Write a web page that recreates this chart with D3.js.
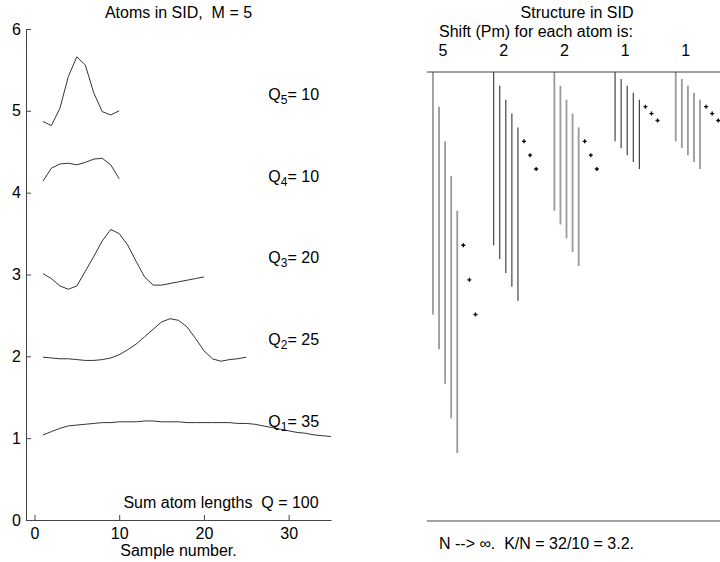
<!DOCTYPE html>
<html>
<head>
<meta charset="utf-8">
<script src="https://cdn.jsdelivr.net/npm/d3@7"></script>
<style>
  html, body { margin: 0; padding: 0; background: #fff; }
  svg { display: block; }
  text { font-family: "Liberation Sans", Arial, sans-serif; font-size: 16px; fill: #000; white-space: pre; }
</style>
</head>
<body>
<svg id="chart" width="720" height="562" xml:space="preserve"></svg>
<script>
// ---------- data ----------
const atomIndex = [1, 2, 3, 4, 5];
const atomLengths = [35, 25, 20, 10, 10];   // Q_m
const atomShifts = [5, 2, 2, 1, 1];         // P_m
const atom1 = [1.04, 1.08, 1.12, 1.15, 1.16, 1.17, 1.18, 1.19, 1.19, 1.20, 1.20, 1.20, 1.21, 1.21, 1.20, 1.20, 1.20, 1.19, 1.19, 1.19, 1.19, 1.19, 1.19, 1.18, 1.18, 1.17, 1.15, 1.13, 1.11, 1.09, 1.07, 1.06, 1.04, 1.03, 1.02];
const atom2 = [1.99, 1.98, 1.97, 1.97, 1.96, 1.95, 1.95, 1.96, 1.98, 2.02, 2.08, 2.15, 2.24, 2.33, 2.42, 2.46, 2.44, 2.36, 2.22, 2.07, 1.97, 1.94, 1.96, 1.97, 1.99];
const atom3 = [3.01, 2.95, 2.86, 2.82, 2.86, 3.04, 3.22, 3.41, 3.55, 3.50, 3.36, 3.16, 2.97, 2.87, 2.87, 2.89, 2.91, 2.93, 2.95, 2.97];
const atom4 = [4.14, 4.30, 4.35, 4.36, 4.34, 4.37, 4.41, 4.42, 4.34, 4.17];
const atom5 = [4.87, 4.82, 5.03, 5.42, 5.66, 5.56, 5.22, 4.99, 4.95, 5.00];
const atoms = [atom1, atom2, atom3, atom4, atom5];
const xTicks = [0, 10, 20, 30];
const yTicks = [0, 1, 2, 3, 4, 5, 6];
const linesPerAtom = 5;
const dotsPerAtom = 3;
const slotsPerAtom = 10;

// ---------- layout ----------
const svg = d3.select("#chart");
const xL = d3.scaleLinear().domain([-1, 35]).range([26, 331]);
const yL = d3.scaleLinear().domain([0, 6]).range([520, 29]);

// axes (inward ticks)
const gx = svg.append("g").attr("transform", "translate(0,520)")
  .call(d3.axisBottom(xL).tickValues(xTicks).tickFormat(d3.format("d")).tickSize(-5).tickSizeOuter(0).tickPadding(8));
const gy = svg.append("g").attr("transform", "translate(26,0)")
  .call(d3.axisLeft(yL).tickValues(yTicks).tickFormat(d3.format("d")).tickSize(-5).tickSizeOuter(0).tickPadding(5));
[gx, gy].forEach(g => {
  g.selectAll("path, line").attr("stroke", "#444");
  g.selectAll("text").style("font-size", "16px").attr("fill", "#000");
});

// atom curves
const line = d3.line().x((d, i) => xL(i + 1)).y(d => yL(d));
atoms.forEach(a => {
  svg.append("path").attr("d", line(a))
    .attr("fill", "none").attr("stroke", "#333").attr("stroke-width", 1);
});

// Q labels
atomIndex.forEach((m, i) => {
  const t = svg.append("text").attr("x", xL(27.6)).attr("y", yL(m + 0.135));
  t.append("tspan").text("Q");
  t.append("tspan").attr("dy", 4).style("font-size", "12px").text(m);
  t.append("tspan").attr("dy", -4).text("= " + atomLengths[i]);
});
svg.append("text").attr("x", xL(10.5)).attr("y", yL(0.147)).text("Sum atom lengths  Q = " + d3.sum(atomLengths));
svg.append("text").attr("x", xL(17)).attr("y", 18).attr("text-anchor", "middle").text("Atoms in SID,  M = 5");
svg.append("text").attr("x", xL(17)).attr("y", 556).attr("text-anchor", "middle").text("Sample number.");

// ---------- right panel: structure ----------
const xR = d3.scaleLinear().domain([-1, 49]).range([426.9, 730.4]);
const yR = d3.scaleLinear().domain([0, 64.8]).range([72, 521]);

svg.append("text").attr("x", 577).attr("y", 18).attr("text-anchor", "middle").text("Structure in SID");
svg.append("text").attr("x", 439).attr("y", 37).text("Shift (Pm) for each atom is:");

atomShifts.forEach((P, g) => {
  const Q = atomLengths[g];
  const color = g % 2 === 0 ? "#9a9a9a" : "#333";
  const width = g % 2 === 0 ? 1.8 : 1.1;
  d3.range(linesPerAtom).forEach(k => {
    svg.append("line")
      .attr("x1", xR(g * slotsPerAtom + k)).attr("x2", xR(g * slotsPerAtom + k))
      .attr("y1", yR(k * P)).attr("y2", yR(k * P + Q))
      .attr("stroke", color).attr("stroke-width", width);
  });
  d3.range(dotsPerAtom).forEach(j => {
    const cx = xR(g * slotsPerAtom + linesPerAtom + j);
    const cy = yR((linesPerAtom + j) * P);
    svg.append("path")
      .attr("d", `M${cx - 2},${cy}L${cx + 2},${cy}M${cx},${cy - 2}L${cx},${cy + 2}`)
      .attr("stroke", "#000").attr("stroke-width", 1.3);
  });
  svg.append("text").attr("x", xR(g * slotsPerAtom + 1.65)).attr("y", 55.5)
    .attr("text-anchor", "middle").text(P);
});

svg.append("line").attr("x1", xR(-1)).attr("x2", 720).attr("y1", yR(0)).attr("y2", yR(0))
  .attr("stroke", "#444").attr("stroke-width", 1);
svg.append("line").attr("x1", xR(-1)).attr("x2", 720).attr("y1", yR(64.8)).attr("y2", yR(64.8))
  .attr("stroke", "#444").attr("stroke-width", 1);
svg.append("text").attr("x", 439).attr("y", 549).text("N --> \u221E.  K/N = 32/10 = 3.2.");
</script>
</body>
</html>
